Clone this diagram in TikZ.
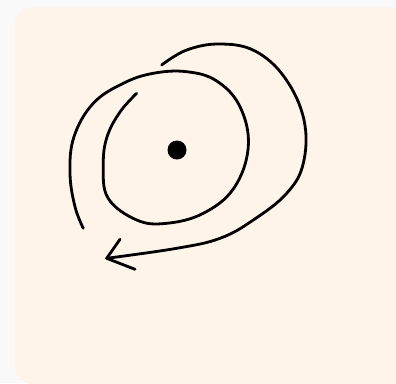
\documentclass[tikz,border=0pt]{standalone}
\usetikzlibrary{calc}
\definecolor{pagebg}{HTML}{F9F9F9}
\definecolor{cardbg}{HTML}{FEF4EA}
\tikzset{
  stroke/.style={line width=2.8pt, line cap=round, line join=round, black},
}
\begin{document}
\begin{tikzpicture}[x=1pt,y=-1pt]
\useasboundingbox (0,0) rectangle (396,383);
\fill[pagebg] (0,0) rectangle (396,383);
\begin{scope}
\clip (0,0) rectangle (396,383);
\fill[cardbg, rounded corners=18pt] (15,7) rectangle (430,384);
\end{scope}
% center dot
\node[circle, fill=black, inner sep=0pt, minimum size=19pt] (dot) at (177,150) {};
% inner loop
\draw[stroke] plot[smooth, tension=0.65] coordinates {
 (136.7,93.3) (120,112) (107,137) (103.3,165) (108,198) (136.7,220) (166.7,223.3)
 (203.3,213.3) (234,188) (248.3,146.7) (240,106.7) (216.7,81) (186.7,71.7)
 (153.3,73.3) (123.3,83.3) (93.3,103.3) (74,136.7) (70,173.3) (75,206.7) (83.3,228.3)};
% outer arrow
\draw[stroke] plot[smooth, tension=0.65] coordinates {
 (161.7,65) (186.7,50) (220,44) (255,51) (285,78) (304,120) (303.3,163.3)
 (286.7,193.3) (253.3,220) (220,238.3) (176.7,248.3) (106.7,258.3)};
\coordinate (tip) at (106.7,258.3);
\coordinate (wa) at (120,239.3);
\coordinate (wb) at (135,269.3);
\draw[stroke] (wa) -- (tip) -- (wb);
\end{tikzpicture}
\end{document}
